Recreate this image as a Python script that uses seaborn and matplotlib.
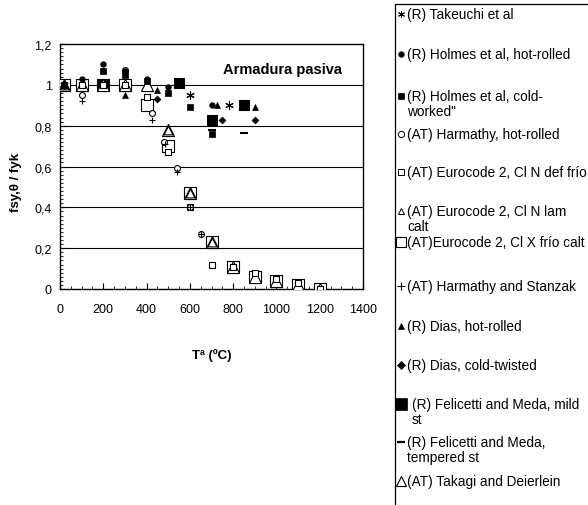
import matplotlib
matplotlib.use("Agg")
import matplotlib.pyplot as plt
from matplotlib.lines import Line2D
from matplotlib.patches import Rectangle
from matplotlib.ticker import MultipleLocator
import seaborn as sns

# ---------------- data ----------------
T_EC = [20, 100, 200, 300, 400, 500, 600, 700, 800, 900, 1000, 1100, 1200]
ec_n_cold = [1.00, 1.00, 1.00, 1.00, 0.94, 0.67, 0.40, 0.12, 0.11, 0.08, 0.05, 0.03, 0.00]
ec_n_hot = [1.00, 1.00, 1.00, 1.00, 1.00, 0.78, 0.47, 0.23, 0.11, 0.06, 0.04, 0.02, 0.00]
ec_x_cold = [1.00, 1.00, 1.00, 1.00, 0.90, 0.70, 0.47, 0.23, 0.11, 0.06, 0.04, 0.02, 0.00]

T_takeuchi = [20, 600, 780]
takeuchi = [1.00, 0.95, 0.90]
T_holmes_hot = [20, 100, 200, 300, 400, 500, 700]
holmes_hot = [1.00, 1.03, 1.10, 1.07, 1.03, 0.99, 0.90]
T_holmes_cold = [20, 200, 300, 400, 500, 600, 700]
holmes_cold = [1.00, 1.07, 1.05, 1.02, 0.96, 0.89, 0.76]
T_harmathy = [20, 100, 300, 425, 480, 540, 600, 650]
harmathy = [1.00, 0.95, 1.075, 0.86, 0.72, 0.595, 0.40, 0.27]
T_stanzak = [20, 100, 425, 485, 540, 600, 650]
stanzak = [1.00, 0.92, 0.83, 0.71, 0.575, 0.40, 0.27]
T_dias_hot = [20, 300, 450, 725, 900]
dias_hot = [1.00, 0.95, 0.975, 0.90, 0.89]
T_dias_cold = [450, 750, 900]
dias_cold = [0.93, 0.83, 0.83]
T_fel_mild = [200, 550, 700, 850]
fel_mild = [1.00, 1.01, 0.83, 0.90]
T_fel_temp = [700, 850]
fel_temp = [0.78, 0.765]
T_takagi = [20, 500, 600, 700]
takagi = [1.00, 0.78, 0.47, 0.23]

y_ticks = [0, 0.2, 0.4, 0.6, 0.8, 1.0, 1.2]
y_ticklabels = ["0", "0,2", "0,4", "0,6", "0,8", "1", "1,2"]
x_ticks = [0, 200, 400, 600, 800, 1000, 1200, 1400]

legend_labels = [
    "(R) Takeuchi et al",
    "(R) Holmes et al, hot-rolled",
    "(R) Holmes et al, cold-\nworked\"",
    "(AT) Harmathy, hot-rolled",
    "(AT) Eurocode 2, Cl N def frío",
    "(AT) Eurocode 2, Cl N lam\ncalt",
    "(AT)Eurocode 2, Cl X frío calt",
    "(AT) Harmathy and Stanzak",
    "(R) Dias, hot-rolled",
    "(R) Dias, cold-twisted",
    "(R) Felicetti and Meda, mild\nst",
    "(R) Felicetti and Meda,\ntempered st",
    "(AT) Takagi and Deierlein",
]

# ---------------- figure ----------------
sns.set_theme(style="white")
plt.rcParams["font.family"] = ["Liberation Sans", "DejaVu Sans"]
W, H = 588, 506
fig = plt.figure(figsize=(W / 100, H / 100), dpi=100)
ax = fig.add_axes([60 / W, 1 - 290 / H, 303 / W, 245 / H])

ast = (6, 2, 0)
# (x, y, marker, size, face, edge, lw, zorder)
series = [
    (T_EC, ec_x_cold, "s", 80, "white", "black", 0.8, 3),
    (T_fel_mild, fel_mild, "s", 55, "black", "black", 0.8, 4),
    (T_EC, ec_n_hot, "^", 75, "white", "black", 0.8, 5),
    (T_takagi, takagi, "^", 40, "white", "black", 0.8, 5),
    (T_EC, ec_n_cold, "s", 18, "white", "black", 0.8, 6),
    (T_harmathy, harmathy, "o", 18, "white", "black", 0.8, 6),
    (T_stanzak, stanzak, "+", 25, "black", "black", 0.8, 6),
    (T_holmes_hot, holmes_hot, "o", 16, "black", "black", 0.5, 7),
    (T_holmes_cold, holmes_cold, "s", 16, "black", "black", 0.5, 7),
    (T_dias_hot, dias_hot, "^", 18, "black", "black", 0.5, 7),
    (T_dias_cold, dias_cold, "D", 12, "black", "black", 0.5, 7),
    (T_fel_temp, fel_temp, "_", 30, "black", "black", 1.5, 7),
    (T_takeuchi, takeuchi, ast, 30, "black", "black", 0.8, 7),
]
for xs, ys, mk, s, fc, ec, lw, z in series:
    if mk in ("+", "_") or isinstance(mk, tuple):
        sns.scatterplot(x=xs, y=ys, marker=mk, s=s, color=ec, linewidth=lw,
                        ax=ax, zorder=z, legend=False)
    else:
        sns.scatterplot(x=xs, y=ys, marker=mk, s=s, color=fc, edgecolor=ec,
                        linewidth=lw, ax=ax, zorder=z, legend=False)

ax.set_xlim(0, 1400)
ax.set_ylim(0, 1.2)
ax.set_xticks(x_ticks)
ax.set_yticks(y_ticks, y_ticklabels)
ax.xaxis.set_minor_locator(MultipleLocator(50))
ax.yaxis.set_minor_locator(MultipleLocator(0.02))
ax.tick_params(axis="both", which="major", direction="in", length=4, width=0.8,
               colors="black", labelsize=9, bottom=True, left=True)
ax.tick_params(axis="x", which="major", pad=10)
ax.tick_params(axis="y", which="major", pad=6)
ax.tick_params(axis="both", which="minor", direction="in", length=2.5, width=0.6,
               colors="black", bottom=True, left=True)
for sp in ax.spines.values():
    sp.set_color("black")
    sp.set_linewidth(1.0)
for yv in y_ticks[1:-1]:
    ax.axhline(yv, color="black", lw=0.8, zorder=1)

ax.set_ylabel("fsy,θ / fyk", fontsize=9.5, fontweight="bold", color="black")
ax.yaxis.set_label_coords(-0.125, 0.44)
ax.set_xlabel("Tª (ºC)", fontsize=9.5, fontweight="bold", color="black")
ax.xaxis.set_label_coords(0.5, -0.24)

ax.text(1029, 1.077, "Armadura pasiva", fontsize=10.5, fontweight="bold",
        ha="center", va="center", color="black")

# ---------------- legend box ----------------
fig.add_artist(Rectangle((395 / W, -0.05), 0.5, 1.05 - 5 / H,
                         transform=fig.transFigure, fill=False, lw=0.9,
                         ec="black", clip_on=False))
leg_rows = [15, 55, 97, 135, 173, 212, 243, 287, 327, 366, 405, 443, 482]
leg_styles = [
    (ast, 5, "black", "black", 0.7),
    ("o", 4, "black", "black", 0.5),
    ("s", 4, "black", "black", 0.5),
    ("o", 4.5, "white", "black", 0.7),
    ("s", 4.5, "white", "black", 0.7),
    ("^", 5, "white", "black", 0.7),
    ("s", 6.5, "white", "black", 0.8),
    ("+", 6, "black", "black", 0.8),
    ("^", 5, "black", "black", 0.5),
    ("D", 3.8, "black", "black", 0.5),
    ("s", 8, "black", "black", 0.5),
    ("_", 6, "black", "black", 1.6),
    ("^", 6.5, "white", "black", 0.8),
]
for lab, yp, (mk, ms, fc, ec, lw) in zip(legend_labels, leg_rows, leg_styles):
    nlines = lab.count("\n") + 1
    fig.add_artist(Line2D([401 / W], [1 - yp / H], transform=fig.transFigure,
                          marker=mk, markersize=ms, markerfacecolor=fc,
                          markeredgecolor=ec, markeredgewidth=lw, linestyle="none"))
    yc = yp + 7.5 * (nlines - 1)
    tx = 412 if mk == "s" and ms >= 8 else 407
    fig.text(tx / W, 1 - yc / H, lab, fontsize=9.8, ha="left", va="center",
             linespacing=1.12, color="black")

fig.savefig("out.png", dpi=100)
